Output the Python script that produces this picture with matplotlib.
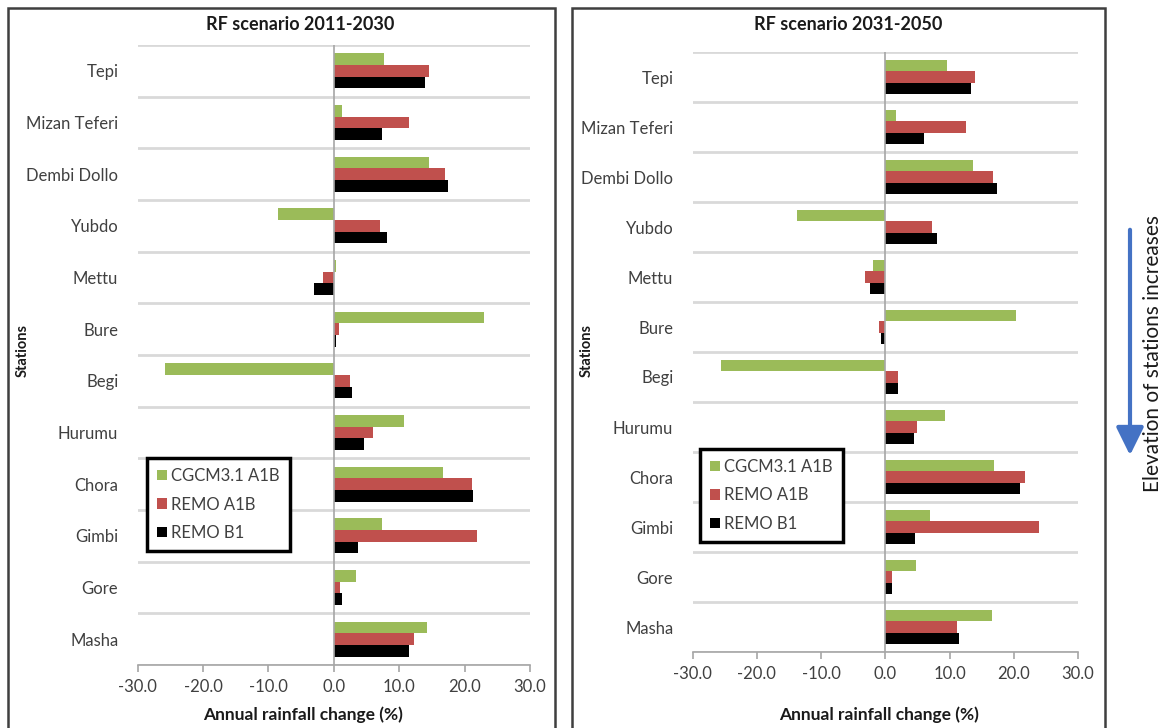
import numpy as np
import matplotlib
matplotlib.use('Agg')
import matplotlib.pyplot as plt
from matplotlib.patches import Rectangle, Patch

plt.rcParams['font.family'] = ['Lato', 'DejaVu Sans']

# stations, from lowest to highest elevation
stations = ['Tepi', 'Mizan Teferi', 'Dembi Dollo', 'Yubdo', 'Mettu', 'Bure',
            'Begi', 'Hurumu', 'Chora', 'Gimbi', 'Gore', 'Masha']
series_names = ['CGCM3.1 A1B', 'REMO A1B', 'REMO B1']

# annual rainfall change (%) 2011-2030
cgcm_2030 = [7.7, 1.3, 14.5, -8.5, 0.3, 22.9, -25.9, 10.7, 16.7, 7.4, 3.4, 14.3]
remo_a1b_2030 = [14.5, 11.5, 17.0, 7.0, -1.7, 0.8, 2.4, 6.0, 21.2, 21.9, 0.9, 12.2]
remo_b1_2030 = [14.0, 7.3, 17.4, 8.2, -3.0, 0.4, 2.7, 4.6, 21.3, 3.7, 1.3, 11.5]

# annual rainfall change (%) 2031-2050
cgcm_2050 = [9.6, 1.7, 13.6, -13.7, -1.9, 20.4, -25.6, 9.3, 16.9, 7.0, 4.8, 16.6]
remo_a1b_2050 = [14.0, 12.5, 16.7, 7.3, -3.1, -1.0, 1.9, 4.9, 21.7, 23.9, 1.0, 11.1]
remo_b1_2050 = [13.3, 6.0, 17.4, 8.0, -2.4, -0.7, 1.9, 4.5, 21.0, 4.6, 1.1, 11.4]

xticks = [-30, -20, -10, 0, 10, 20, 30]
colors = ['#9BBB59', '#C0504D', '#000000']

W, H = 1167, 728
fig = plt.figure(figsize=(W / 100, H / 100), dpi=100)


def px(x, y):
    # pixel position (from top-left) -> figure fraction
    return x / W, 1 - y / H


def panel(rect, title, series, frame, title_x, xlabel_x, legend_box):
    x0, y0, x1, y1 = rect
    ax = fig.add_axes([x0 / W, 1 - y1 / H, (x1 - x0) / W, (y1 - y0) / H])
    pos = np.arange(len(stations))
    h = 0.225
    for k, vals in enumerate(series):
        ax.barh(pos + (k - 1) * h, vals, height=h, color=colors[k],
                label=series_names[k], zorder=3)
    ax.set_ylim(len(stations) - 0.5, -0.5)
    ax.set_xlim(-30, 30)
    ax.set_xticks(xticks)
    ax.set_xticklabels(['%.1f' % t for t in xticks])
    ax.set_yticks(pos)
    ax.set_yticklabels(stations)
    ax.set_yticks(np.arange(len(stations) + 1) - 0.5, minor=True)
    ax.grid(which='minor', axis='y', color='#D9D9D9', linewidth=2, zorder=0)
    ax.axvline(0, color='#A6A6A6', linewidth=1.2, zorder=4)
    for s in ['top', 'right', 'left']:
        ax.spines[s].set_visible(False)
    ax.spines['bottom'].set_color('#A6A6A6')
    ax.spines['bottom'].set_linewidth(1.2)
    ax.tick_params(axis='y', which='both', length=0, labelsize=12,
                   labelcolor='#404040', pad=14)
    ax.tick_params(axis='x', length=5, width=1.2, color='#A6A6A6',
                   labelsize=12, labelcolor='#404040', pad=5)

    # panel frame and texts
    fx0, fy0, fx1 = frame
    fig.add_artist(Rectangle(px(fx0, 745), (fx1 - fx0) / W, (745 - fy0) / H,
                             transform=fig.transFigure, fill=False,
                             edgecolor='#3F3F3F', linewidth=1.8))
    fig.text(*px(title_x, 24), title, ha='center', va='center',
             fontsize=13, fontweight='bold', color='#1A1A1A')
    fig.text(*px(xlabel_x, 715), 'Annual rainfall change (%)', ha='center',
             va='center', fontsize=12.5, fontweight='bold', color='#1A1A1A')
    fig.text(*px(fx0 + 15, 350), 'Stations', rotation=90, ha='center',
             va='center', fontsize=10.5, fontweight='bold', color='#1A1A1A')

    handles = [Patch(facecolor=c) for c in colors]
    leg = ax.legend(handles, series_names, loc='upper left',
                    bbox_to_anchor=px(legend_box[0], legend_box[1]),
                    bbox_transform=fig.transFigure, frameon=True,
                    fancybox=False, framealpha=1, fontsize=12,
                    handlelength=0.6, handleheight=0.6, handletextpad=0.25,
                    labelspacing=0.75, borderpad=0.6, borderaxespad=0)
    leg.get_frame().set_edgecolor('#000000')
    leg.get_frame().set_linewidth(2.5)
    for t in leg.get_texts():
        t.set_color('#404040')
    leg.set_zorder(10)
    return ax


panel((137.7, 45, 530, 665), 'RF scenario 2011-2030',
      [cgcm_2030, remo_a1b_2030, remo_b1_2030], (8, 8, 555), 300, 303,
      (147, 458))
panel((692.7, 52, 1078, 652), 'RF scenario 2031-2050',
      [cgcm_2050, remo_a1b_2050, remo_b1_2050], (572, 8, 1105), 848, 879,
      (700, 449))

# elevation arrow on the right
fig.add_artist(plt.Annotation('', xy=px(1130, 458), xytext=px(1130, 227),
                              xycoords='figure fraction',
                              textcoords='figure fraction',
                              arrowprops=dict(arrowstyle='-|>,head_width=0.42,head_length=0.85',
                                              mutation_scale=20,
                                              color='#4472C4', linewidth=3)))
fig.text(*px(1153, 353), 'Elevation of stations increases', rotation=90,
         ha='center', va='center', fontsize=15, color='#1A1A1A')

fig.savefig('out.png', dpi=100)
